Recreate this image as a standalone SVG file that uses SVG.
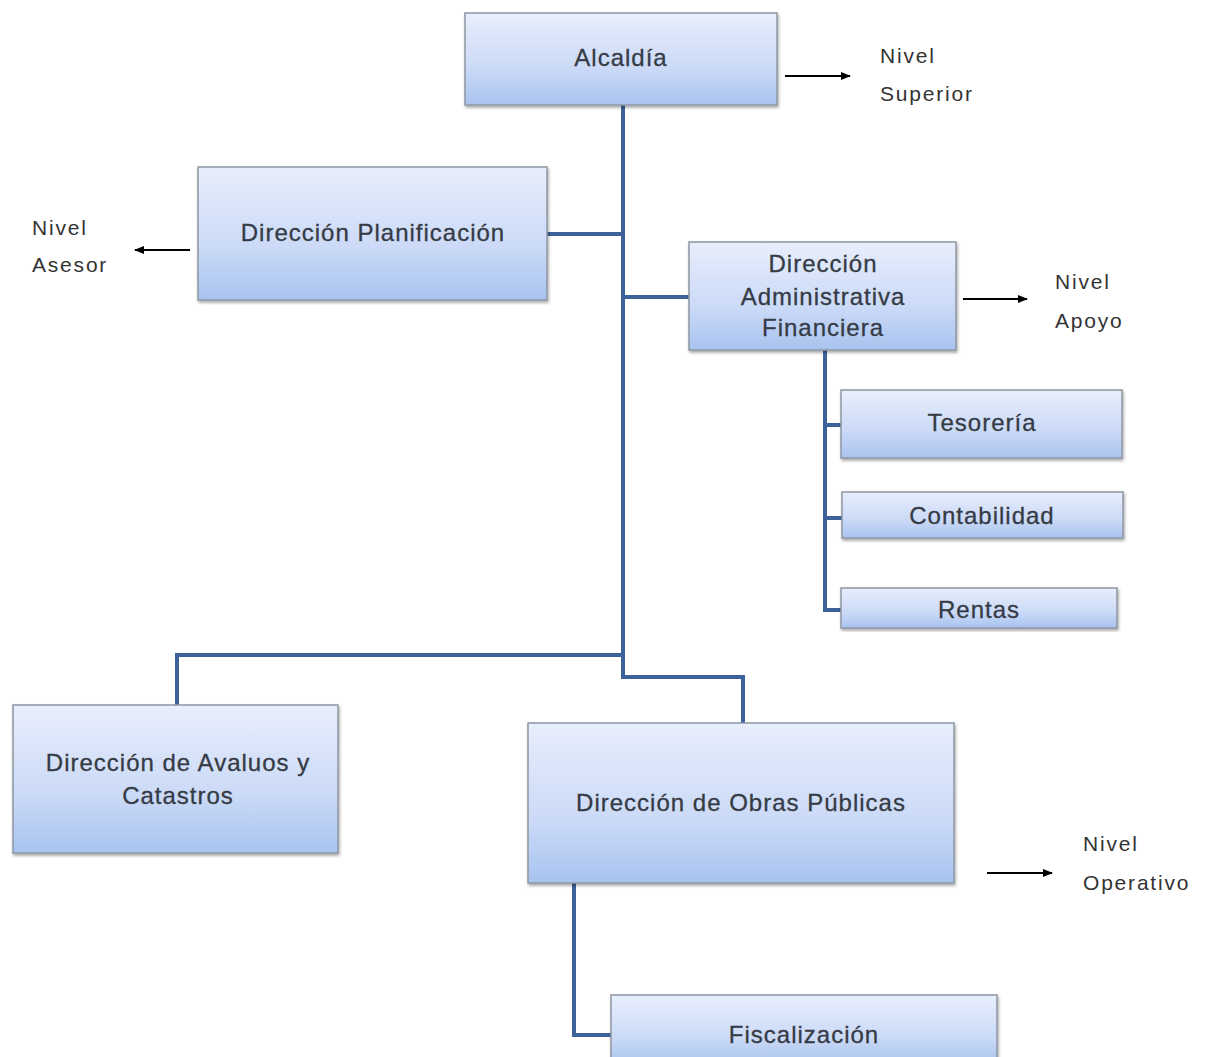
<svg xmlns="http://www.w3.org/2000/svg" width="1214" height="1057" viewBox="0 0 1214 1057">
<defs>
<linearGradient id="g" x1="0" y1="0" x2="0" y2="1">
<stop offset="0" stop-color="#e8eefc"/>
<stop offset="0.6" stop-color="#cbdaf7"/>
<stop offset="1" stop-color="#a8c3ef"/>
</linearGradient>
<filter id="sh" x="-5%" y="-5%" width="110%" height="115%">
<feDropShadow dx="1" dy="2" stdDeviation="1.5" flood-color="#000" flood-opacity="0.35"/>
</filter>
<marker id="ah" viewBox="0 0 10 10" refX="9" refY="5" markerWidth="10" markerHeight="10" markerUnits="userSpaceOnUse" orient="auto">
<path d="M0,1 L10,5 L0,9 z" fill="#000"/>
</marker>
</defs>
<style>
.box{fill:url(#g);stroke:#8e96a3;stroke-width:1.5;filter:url(#sh)}
.t{font-family:"Liberation Sans",Arial,sans-serif;font-size:24px;letter-spacing:1px;fill:#353b45;stroke:#353b45;stroke-width:0.3;text-anchor:middle;dominant-baseline:middle}
.l{font-family:"Liberation Sans",Arial,sans-serif;font-size:21px;letter-spacing:1.8px;fill:#333}
.c{fill:none;stroke:#3d629a;stroke-width:4}
.a{stroke:#000;stroke-width:2;marker-end:url(#ah)}
</style>
<rect width="1214" height="1057" fill="#fff"/>
<g id="connectors">
<path class="c" d="M623,105 V677 H743 V723"/>
<path class="c" d="M547,234 H623"/>
<path class="c" d="M623,297 H689"/>
<path class="c" d="M623,655 H177 V705"/>
<path class="c" d="M825,350 V610 H841"/>
<path class="c" d="M825,425 H841"/>
<path class="c" d="M825,518 H842"/>
<path class="c" d="M574,883 V1035 H611"/>
<line class="a" x1="785" y1="76" x2="850" y2="76"/>
<line class="a" x1="190" y1="250" x2="135" y2="250"/>
<line class="a" x1="963" y1="299" x2="1027" y2="299"/>
<line class="a" x1="987" y1="873" x2="1052" y2="873"/>
</g>
<g id="alcaldia"><rect class="box" x="465" y="13" width="312" height="92"/><text class="t" x="621" y="60">Alcaldía</text></g>
<g id="planificacion"><rect class="box" x="198" y="167" width="349" height="133"/><text class="t" x="373" y="235">Dirección Planificación</text></g>
<g id="admin"><rect class="box" x="689" y="242" width="267" height="108"/><text class="t" x="823" y="266">Dirección</text><text class="t" x="823" y="299">Administrativa</text><text class="t" x="823" y="330">Financiera</text></g>
<g id="tesoreria"><rect class="box" x="841" y="390" width="281" height="68"/><text class="t" x="982" y="425">Tesorería</text></g>
<g id="contabilidad"><rect class="box" x="842" y="492" width="281" height="46"/><text class="t" x="982" y="518">Contabilidad</text></g>
<g id="rentas"><rect class="box" x="841" y="588" width="276" height="40"/><text class="t" x="979" y="612">Rentas</text></g>
<g id="avaluos"><rect class="box" x="13" y="705" width="325" height="148"/><text class="t" x="178" y="765">Dirección de Avaluos y</text><text class="t" x="178" y="798">Catastros</text></g>
<g id="obras"><rect class="box" x="528" y="723" width="426" height="160"/><text class="t" x="741" y="805">Dirección de Obras Públicas</text></g>
<g id="fiscalizacion"><rect class="box" x="611" y="995" width="386" height="70"/><text class="t" x="804" y="1037">Fiscalización</text></g>
<g id="labels">
<text class="l" x="880" y="63">Nivel</text><text class="l" x="880" y="101">Superior</text>
<text class="l" x="32" y="235">Nivel</text><text class="l" x="32" y="272">Asesor</text>
<text class="l" x="1055" y="289">Nivel</text><text class="l" x="1055" y="328">Apoyo</text>
<text class="l" x="1083" y="851">Nivel</text><text class="l" x="1083" y="890">Operativo</text>
</g>
</svg>
